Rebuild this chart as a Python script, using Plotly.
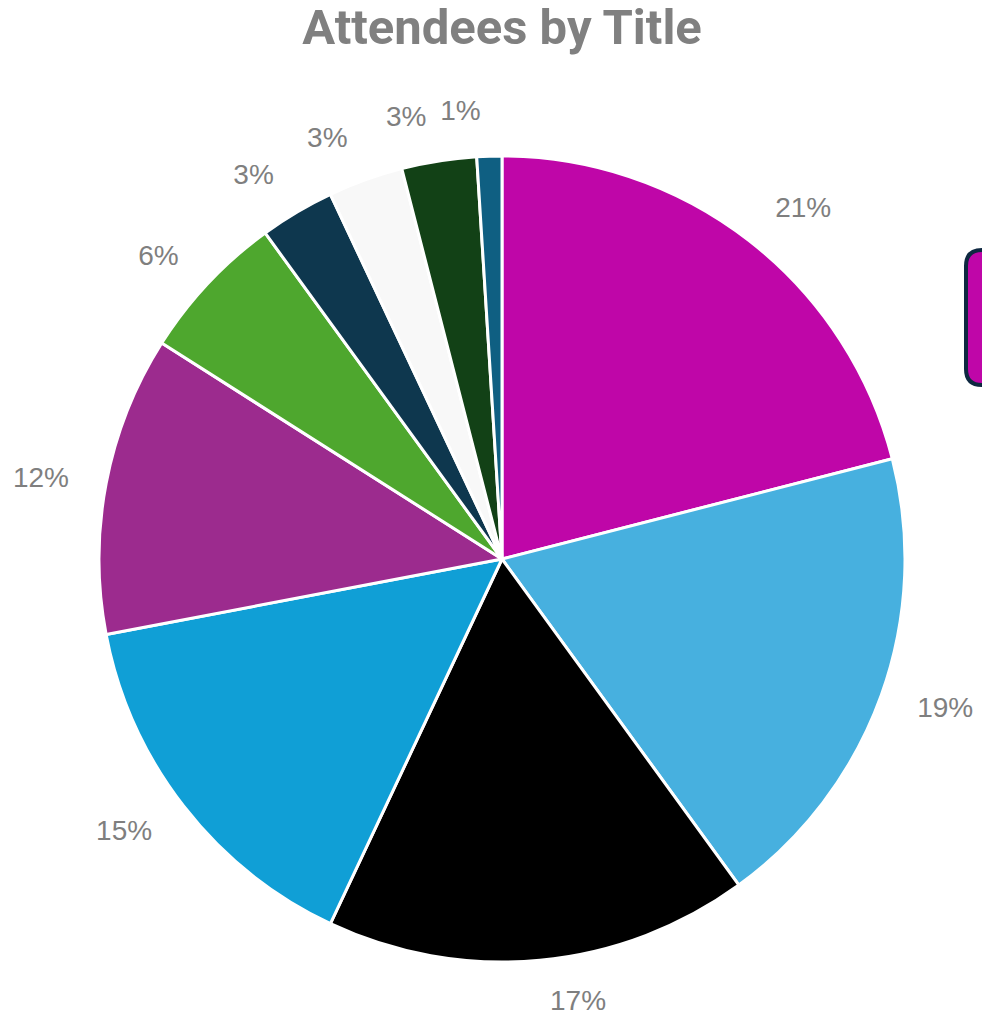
import plotly.graph_objects as go

labels = ["Title A", "Title B", "Title C", "Title D", "Title E",
          "Title F", "Title G", "Title H", "Title I", "Title J"]
values = [21, 19, 17, 15, 12, 6, 3, 3, 3, 1]
colors = ["#BF06A8", "#47B0DF", "#000000", "#109FD6", "#9C2B8E",
          "#4EA72E", "#0E374E", "#F8F8F8", "#124116", "#0F5F82"]
# which transparent label carrier shows each slice's percentage
# (split so that Plotly does not stack neighbouring small-slice labels)
label_group = [0, 0, 3, 0, 0, 0, 0, 1, 0, 2]

W, H = 982, 1019
CX, CY = 502, 559      # pie centre in px
R_PIE = 403
R_LAB = [433, 433, 433, 428]


def dom(r):
    return dict(x=[(CX - r) / W, (CX + r) / W],
                y=[1 - (CY + r) / H, 1 - (CY - r) / H])


fig = go.Figure()
for g, rl in enumerate(R_LAB):
    fig.add_trace(go.Pie(
        labels=labels, values=values, sort=False, direction="clockwise", rotation=0,
        marker=dict(colors=["rgba(0,0,0,0)"] * len(values), line=dict(width=0)),
        texttemplate="%{percent:.0%}",
        textposition=["outside" if lg == g else "none" for lg in label_group],
        textfont=dict(family="Liberation Sans, Arial, sans-serif", size=28, color="#7F7F7F"),
        showlegend=False, hoverinfo="skip", automargin=False,
        domain=dom(rl),
    ))
# visible pie
fig.add_trace(go.Pie(
    labels=labels, values=values, sort=False, direction="clockwise", rotation=0,
    marker=dict(colors=colors, line=dict(color="white", width=3)),
    textinfo="none", showlegend=False, automargin=False,
    domain=dom(R_PIE),
))


def px_x(v):
    return v / W


def px_y(v):
    return 1 - v / H


x0, x1, y0, y1, r = 966, 1030, 250, 385, 16
path = (f"M {px_x(x0 + r)} {px_y(y0)} L {px_x(x1)} {px_y(y0)} L {px_x(x1)} {px_y(y1)} "
        f"L {px_x(x0 + r)} {px_y(y1)} Q {px_x(x0)} {px_y(y1)} {px_x(x0)} {px_y(y1 - r)} "
        f"L {px_x(x0)} {px_y(y0 + r)} Q {px_x(x0)} {px_y(y0)} {px_x(x0 + r)} {px_y(y0)} Z")

fig.update_layout(
    width=W, height=H,
    margin=dict(l=0, r=0, t=0, b=0, pad=0),
    paper_bgcolor="white",
    plot_bgcolor="white",
    title=dict(text="<b>Attendees by Title</b>", x=502 / W, xanchor="center",
               y=1 - 10 / H, yanchor="top", automargin=False,
               font=dict(family="Roboto, Liberation Sans, sans-serif", size=49, color="#808080")),
    shapes=[dict(type="path", path=path, xref="paper", yref="paper",
                 fillcolor="#BF06A8", line=dict(color="#0E2841", width=4))],
)

fig.write_html("out.html", config={"displayModeBar": False},
               post_script="document.body.style.margin='0';")
